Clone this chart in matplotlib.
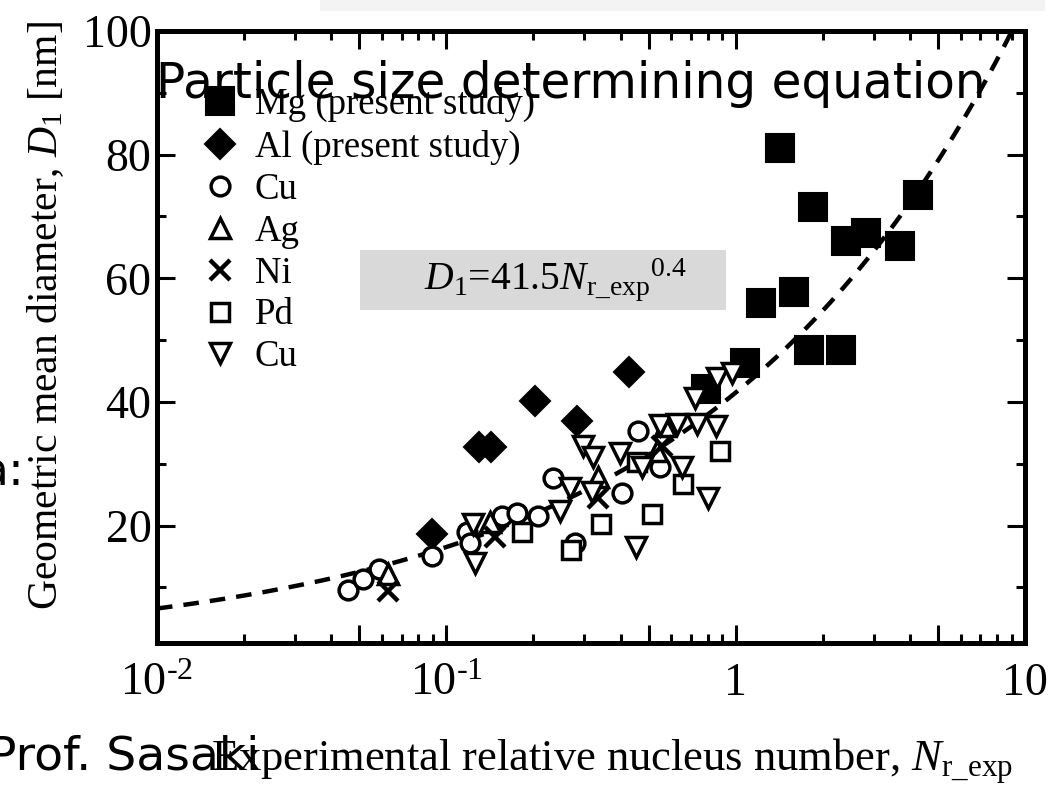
import numpy as np
import matplotlib
matplotlib.use("Agg")
import matplotlib.pyplot as plt
from matplotlib.ticker import FixedLocator, FixedFormatter, NullFormatter
from matplotlib.patches import Rectangle

plt.rcParams['font.family'] = ['Liberation Serif', 'DejaVu Serif']
plt.rcParams['mathtext.fontset'] = 'custom'
plt.rcParams['mathtext.rm'] = 'Liberation Serif'
plt.rcParams['mathtext.it'] = 'Liberation Serif:italic'

# data
mg_x = [1.42, 1.85, 2.41, 2.82, 4.27, 3.70, 1.22, 1.59, 1.79, 2.31, 1.08, 0.79]
mg_y = [81.0, 71.5, 66.1, 67.3, 73.5, 65.3, 56.0, 57.7, 48.4, 48.4, 46.3, 42.1]

al_x = [0.089, 0.130, 0.143, 0.203, 0.283, 0.429]
al_y = [18.7, 32.7, 32.7, 40.2, 36.9, 44.8]

cu_x = [0.0457, 0.0515, 0.0585, 0.0893, 0.118, 0.121, 0.156, 0.175, 0.207,
        0.234, 0.405, 0.460, 0.548, 0.279]
cu_y = [9.5, 11.3, 12.9, 15.0, 18.9, 17.1, 21.6, 22.1, 21.6,
        27.7, 25.2, 35.3, 29.5, 17.1]

ag_x = [0.0628, 0.1416, 0.334, 0.535, 0.570]
ag_y = [12.1, 20.5, 27.9, 32.1, 36.1]

ni_x = [0.0628, 0.147, 0.334, 0.557]
ni_y = [9.4, 18.2, 24.4, 32.9]

pd_x = [0.183, 0.270, 0.343, 0.514, 0.456, 0.658, 0.883]
pd_y = [18.9, 16.1, 20.2, 21.9, 30.2, 26.8, 32.1]

cu2_x = [0.126, 0.124, 0.247, 0.268, 0.297, 0.321, 0.398, 0.453, 0.803, 0.475,
         0.653, 0.548, 0.627, 0.736, 0.855, 0.724, 0.862, 0.972, 0.319]
cu2_y = [14.0, 20.3, 22.4, 26.0, 32.9, 31.1, 31.8, 16.6, 24.4, 29.5,
         29.4, 36.3, 36.5, 36.5, 36.1, 40.6, 43.9, 44.7, 25.5]

fit_a = 41.5
fit_n = 0.4

fig = plt.figure(figsize=(10.53, 7.85), dpi=100)

# pale strip left over from the slide above the chart
fig.patches.append(Rectangle((320 / 1053, (785 - 11) / 785), 725 / 1053, 11 / 785,
                             transform=fig.transFigure, facecolor='#f3f3f3',
                             edgecolor='none'))

ax = fig.add_axes([157 / 1053, 142 / 785, 868 / 1053, 612 / 785])

# fitted curve
xf = np.logspace(-2, 1, 300)
ax.plot(xf, fit_a * xf ** fit_n, color='black', lw=3.2, ls=(0, (3.5, 2.5)), zorder=1)

ax.plot(mg_x, mg_y, ls='none', marker='s', ms=19.5, mfc='black', mec='black',
        mew=1.5, label='Mg (present study)', zorder=3)
ax.plot(al_x, al_y, ls='none', marker='D', ms=15.5, mfc='black', mec='black',
        mew=1.5, label='Al (present study)', zorder=3)
ax.plot(cu_x, cu_y, ls='none', marker='o', ms=13.5, mfc='white', mec='black',
        mew=2.5, label='Cu', zorder=4)
ax.plot(ag_x, ag_y, ls='none', marker='^', ms=15, mfc='white', mec='black',
        mew=2.5, label='Ag', zorder=4)
ax.plot(ni_x, ni_y, ls='none', marker='x', ms=14, mec='black',
        mew=3.2, label='Ni', zorder=4)
ax.plot(pd_x, pd_y, ls='none', marker='s', ms=13.5, mfc='white', mec='black',
        mew=2.5, label='Pd', zorder=4)
ax.plot(cu2_x, cu2_y, ls='none', marker='v', ms=15, mfc='white', mec='black',
        mew=2.5, label='Cu', zorder=4)

ax.set_xscale('log')
ax.set_xlim(0.01, 10)
ax.set_ylim(1, 100)

ax.xaxis.set_major_locator(FixedLocator([0.01, 0.05, 0.1, 0.5, 1, 5, 10]))
ax.xaxis.set_major_formatter(FixedFormatter(
    [r'$10^{\text{-2}}$', '', r'$10^{\text{-1}}$', '', '1', '', '10']))
ax.xaxis.set_minor_locator(FixedLocator(
    [m * 10.0 ** e for e in (-2, -1, 0) for m in (2, 3, 4, 6, 7, 8, 9)]))
ax.xaxis.set_minor_formatter(NullFormatter())
ax.yaxis.set_major_locator(FixedLocator([20, 40, 60, 80, 100]))
ax.yaxis.set_minor_locator(FixedLocator([10, 30, 50, 70, 90]))

ax.tick_params(which='both', direction='in', top=True, right=True, width=2.2,
               labelsize=33, colors='black')
ax.tick_params(which='major', length=13)
ax.tick_params(which='minor', length=6.5)
ax.tick_params(axis='x', pad=14)
ax.tick_params(axis='y', pad=4)
for sp in ax.spines.values():
    sp.set_linewidth(3.6)

ax.set_xlabel(r'Experimental relative nucleus number, $N_{\mathrm{r\_exp}}$',
              fontsize=32)
ax.xaxis.set_label_coords(0.524, -0.153)
ax.set_ylabel(r'Geometric mean diameter, $D_{1}$ [nm]', fontsize=30)
ax.yaxis.set_label_coords(-0.105, 0.535)

leg = ax.legend(loc='upper left', bbox_to_anchor=(0.03, 0.938), frameon=False,
                fontsize=26.5, handlelength=1.0, handletextpad=0.45,
                labelspacing=0.2, borderpad=0)

# equation box
ax.add_patch(Rectangle((360 / 1053, (785 - 310) / 785), 366 / 1053, 60 / 785,
                       transform=fig.transFigure, facecolor='#d9d9d9',
                       edgecolor='none', zorder=2))
fig.text(555 / 1053, (785 - 280) / 785,
         r'$D_{1}$=41.5$N_{\mathrm{r\_exp}}{}^{0.4}$', fontsize=28.5,
         ha='center', va='center')

# slide text overlapping the chart
gothic = ['DejaVu Sans']
fig.text(156 / 1053, (785 - 98) / 785, 'Particle size determining equation',
         fontsize=35, family=gothic, ha='left', va='baseline')
fig.text(-12 / 1053, (785 - 770) / 785, 'Prof. Sasaki', fontsize=34,
         family=gothic, ha='left', va='baseline')
fig.text(24 / 1053, (785 - 486) / 785, 'a:', fontsize=34,
         family=gothic, ha='right', va='baseline')

fig.savefig('out.png', dpi=100)
